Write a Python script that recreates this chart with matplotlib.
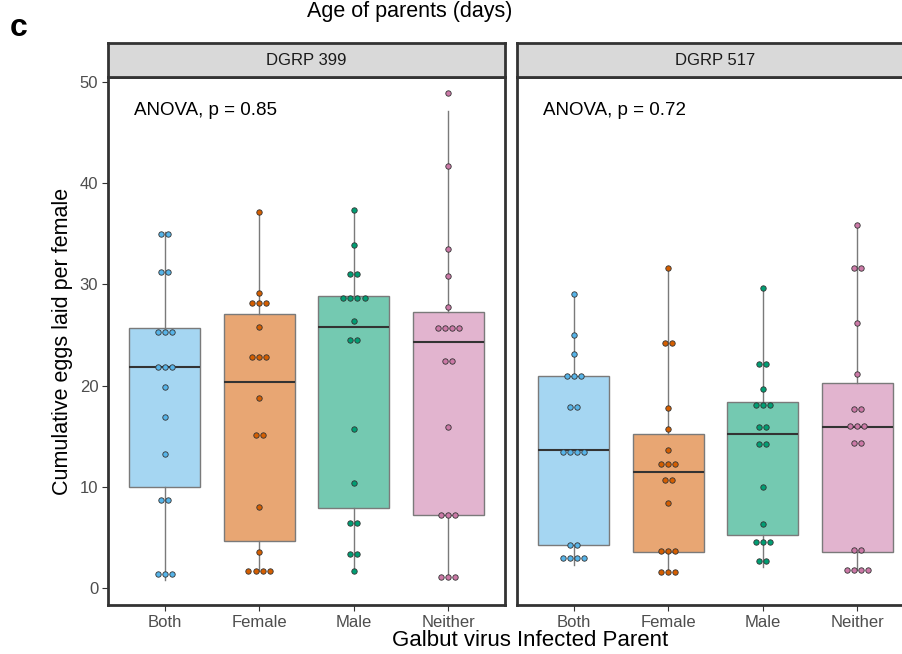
import matplotlib
matplotlib.use("Agg")
import matplotlib.pyplot as plt
import numpy as np

plt.rcParams['font.family'] = ['Liberation Sans', 'DejaVu Sans']

# categories / panels
groups = ["Both", "Female", "Male", "Neither"]
panels = ["DGRP 399", "DGRP 517"]
anova_text = ["ANOVA, p = 0.85", "ANOVA, p = 0.72"]

# dot values (repeats = stacked dots)
both_399 = [35.0, 35.0, 31.2, 31.2, 25.3, 25.3, 25.3, 21.8, 21.8, 21.8,
            19.9, 16.9, 13.3, 8.7, 8.7, 1.4, 1.4, 1.4]
female_399 = [37.2, 29.2, 28.2, 28.2, 28.2, 25.8, 22.8, 22.8, 22.8, 18.8,
              15.1, 15.1, 8.0, 3.6, 1.7, 1.7, 1.7, 1.7]
male_399 = [37.3, 33.9, 31.0, 31.0, 28.7, 28.7, 28.7, 28.7, 26.4, 24.5,
            24.5, 15.7, 10.4, 6.4, 6.4, 3.4, 3.4, 1.7]
neither_399 = [48.9, 41.7, 33.5, 30.8, 27.8, 25.7, 25.7, 25.7, 25.7, 22.4,
               22.4, 15.9, 7.2, 7.2, 7.2, 1.1, 1.1, 1.1]

both_517 = [29.1, 25.0, 23.1, 21.0, 21.0, 21.0, 17.9, 17.9, 13.5, 13.5,
            13.5, 13.5, 4.3, 4.3, 3.0, 3.0, 3.0, 3.0]
female_517 = [31.6, 24.2, 24.2, 17.8, 15.7, 13.7, 12.3, 12.3, 12.3, 10.7,
              10.7, 8.4, 3.7, 3.7, 3.7, 1.6, 1.6, 1.6]
male_517 = [29.6, 22.1, 22.1, 19.7, 18.1, 18.1, 18.1, 15.9, 15.9, 14.2,
            14.2, 10.0, 6.3, 4.6, 4.6, 4.6, 2.7, 2.7]
neither_517 = [35.9, 31.6, 31.6, 26.2, 21.2, 17.7, 17.7, 16.0, 16.0, 16.0,
               14.3, 14.3, 3.8, 3.8, 1.8, 1.8, 1.8, 1.8]

# box statistics
q1_399 = [10.0, 4.7, 7.9, 7.2]
med_399 = [21.8, 20.4, 25.8, 24.3]
q3_399 = [25.7, 27.1, 28.9, 27.3]
lo_399 = [0.8, 1.7, 1.7, 1.1]
hi_399 = [35.2, 37.2, 37.3, 47.1]

q1_517 = [4.25, 3.57, 5.28, 3.57]
med_517 = [13.7, 11.5, 15.2, 15.9]
q3_517 = [21.0, 15.2, 18.4, 20.3]
lo_517 = [2.3, 1.5, 2.1, 1.8]
hi_517 = [29.1, 31.6, 29.6, 35.9]

yticks = [0, 10, 20, 30, 40, 50]

box_colors = ["#A5D6F2", "#E8A673", "#74C9B1", "#E2B4CF"]
dot_colors = ["#56B4E9", "#D55E00", "#009E73", "#CC79A7"]

dots = [[both_399, female_399, male_399, neither_399],
        [both_517, female_517, male_517, neither_517]]
stats = [(q1_399, med_399, q3_399, lo_399, hi_399),
         (q1_517, med_517, q3_517, lo_517, hi_517)]

W, H = 903, 654
fig = plt.figure(figsize=(W / 100, H / 100), dpi=100)

def px_box(x0, y_top, x1, y_bot):
    return [x0 / W, 1 - y_bot / H, (x1 - x0) / W, (y_bot - y_top) / H]

panel_x = [(108, 505), (517, 914)]
border = "#333333"

for p in range(2):
    xa, xb = panel_x[p]
    ax = fig.add_axes(px_box(xa, 77.3, xb, 605))
    q1, med, q3, lo, hi = stats[p]
    bstats = []
    for i in range(4):
        bstats.append(dict(q1=q1[i], med=med[i], q3=q3[i],
                           whislo=lo[i], whishi=hi[i], fliers=[]))
    bp = ax.bxp(bstats, positions=np.arange(1, 5), widths=0.75,
                patch_artist=True, showcaps=False, showfliers=False,
                boxprops=dict(edgecolor="#7a7a7a", linewidth=1.0),
                whiskerprops=dict(color="#7a7a7a", linewidth=1.0),
                medianprops=dict(color="#333333", linewidth=1.5))
    for patch, c in zip(bp["boxes"], box_colors):
        patch.set_facecolor(c)

    # centred dot stacks
    step = 0.076
    for i, vals in enumerate(dots[p]):
        uniq = []
        for v in vals:
            if v not in uniq:
                uniq.append(v)
        for v in uniq:
            n = vals.count(v)
            xs = (i + 1) + (np.arange(n) - (n - 1) / 2) * step
            ax.plot(xs, [v] * n, "o", ms=3.9, mfc=dot_colors[i],
                    mec="#333333", mew=0.6, zorder=5)

    ax.set_xlim(0.4, 4.6)
    ax.set_ylim(-1.65, 50.45)
    ax.set_xticks(np.arange(1, 5))
    ax.set_xticklabels(groups, fontsize=12, color="#4D4D4D")
    ax.set_yticks(yticks)
    if p == 0:
        ax.set_yticklabels([str(t) for t in yticks], fontsize=12, color="#4D4D4D")
        ax.set_ylabel("Cumulative eggs laid per female", fontsize=15.5, labelpad=5)
    else:
        ax.tick_params(axis="y", left=False, labelleft=False)
    ax.tick_params(axis="both", length=4, width=0.8, color="#333333", pad=3)
    for s in ax.spines.values():
        s.set_color(border)
        s.set_linewidth(2.0)
    ax.text(0.675, 47.2, anova_text[p], fontsize=13.5, va="center", ha="left")

    sx = fig.add_axes(px_box(xa, 43, xb, 77.3))
    sx.set_facecolor("#D9D9D9")
    sx.set_xticks([])
    sx.set_yticks([])
    for s in sx.spines.values():
        s.set_color(border)
        s.set_linewidth(2.0)
    sx.text(0.5, 0.5, panels[p], fontsize=12, color="#1A1A1A",
            ha="center", va="center", transform=sx.transAxes)

fig.text(530 / W, 1 - 641 / H, "Galbut virus Infected Parent", fontsize=16,
         ha="center", va="center")
fig.text(410 / W, 1 - 11 / H, "Age of parents (days)", fontsize=15.5,
         ha="center", va="center")
fig.text(10 / W, 1 - 28 / H, "c", fontsize=23, fontweight="bold",
         ha="left", va="center")

fig.savefig("out.png", dpi=100)
